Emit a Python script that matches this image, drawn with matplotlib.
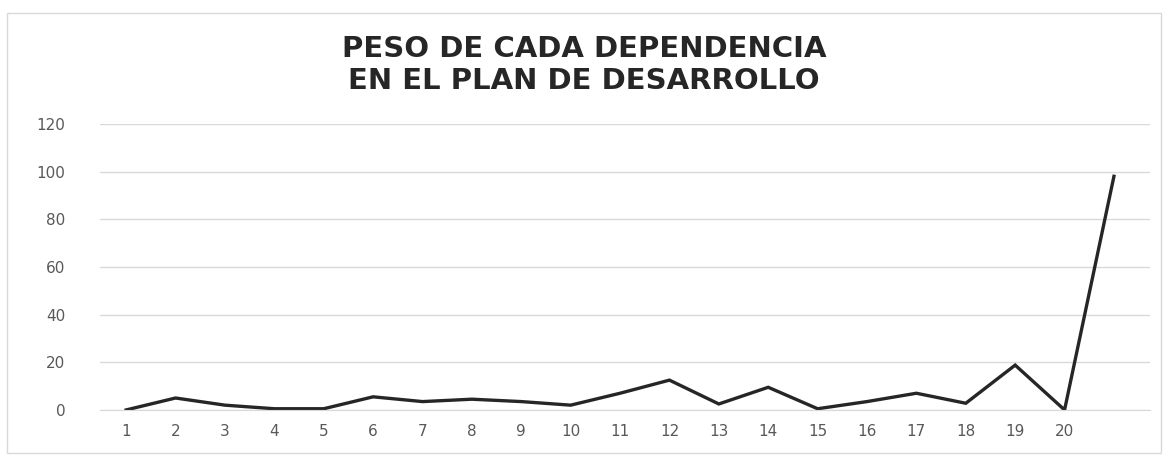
import matplotlib
matplotlib.use("Agg")
import matplotlib.pyplot as plt
from matplotlib.patches import Rectangle

title = "PESO DE CADA DEPENDENCIA\nEN EL PLAN DE DESARROLLO"
categories = [str(i) for i in range(1, 21)] + [""]
values = [0, 5, 2, 0.5, 0.5, 5.5, 3.5, 4.5, 3.5, 2, 7, 12.5, 2.5, 9.5, 0.5, 3.5, 7, 2.8, 18.8, 0, 98]
yticks = [0, 20, 40, 60, 80, 100, 120]

fig = plt.figure(figsize=(11.68, 4.57), dpi=100)
fig.patches.append(Rectangle((0.006, 0.009), 0.988, 0.963, transform=fig.transFigure,
                             fill=False, edgecolor="#d9d9d9", linewidth=1))
ax = fig.add_axes([100 / 1168, 0.103, 1050 / 1168, 0.626])

x = list(range(1, len(values) + 1))
ax.plot(x, values, color="#262626", linewidth=2.4, solid_joinstyle="miter")
ax.set_xlim(0.47, len(values) + 0.73)
ax.set_ylim(0, 120)
ax.set_yticks(yticks)
ax.set_yticklabels([str(v) for v in yticks])
ax.set_xticks(x)
ax.set_xticklabels(categories)
ax.grid(axis="y", color="#d9d9d9", linewidth=1)
ax.set_axisbelow(True)
for s in ["top", "right", "left"]:
    ax.spines[s].set_visible(False)
ax.spines["bottom"].set_color("#d9d9d9")
ax.tick_params(axis="both", length=0, labelsize=11, colors="#595959")
ax.tick_params(axis="x", pad=10)
ax.tick_params(axis="y", pad=25)

fig.text(0.5, 0.858, title, ha="center", va="center", fontsize=21, fontweight="bold",
         color="#262626", family="DejaVu Sans", linespacing=1.2)

fig.savefig("out.png", dpi=100)
